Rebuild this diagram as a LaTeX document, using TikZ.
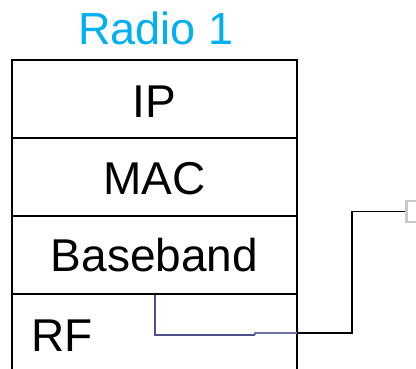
\documentclass[tikz,border=0pt]{standalone}
\usepackage{fontspec}
\setmainfont{Liberation Sans}
\definecolor{titlecyan}{HTML}{00B0F0}
\definecolor{wireA}{HTML}{505090}
\definecolor{wireB}{HTML}{7070AA}
\definecolor{portgrey}{HTML}{C8C8C8}
\tikzset{
  big/.style={font=\fontsize{46}{52}\selectfont, inner sep=0pt, anchor=base},
  boxline/.style={line width=2.2pt, black},
  wirestyle/.style={line width=1.7pt},
}
\begin{document}
\begin{tikzpicture}[x=1pt,y=-1pt]
\useasboundingbox (0,0) rectangle (416,369);
\clip (0,0) rectangle (416,369);
% title
\node[big, text=titlecyan, font=\fontsize{45}{50}\selectfont] (title) at (156,45) {Radio 1};
% stack outline
\coordinate (tl) at (12,60);
\coordinate (tr) at (297,60);
\coordinate (bl) at (12,369);
\coordinate (br) at (297,369);
\draw[boxline] (bl) -- (tl) -- (tr) -- (br);
\draw[boxline] (12,138) -- (297,138);
\draw[boxline] (12,216) -- (297,216);
\draw[boxline] (12,294) -- (297,294);
% labels
\node[big] (ip) at (154.5,118) {IP};
\node[big] (mac) at (154.5,195) {MAC};
\node[big] (bb) at (154.5,272) {Baseband};
\node[big, anchor=base west] (rf) at (31,352) {RF};
% connector
\coordinate (tap) at (155,295);
\coordinate (edge) at (297,333);
\node[draw=portgrey, line width=2.5pt, fill=white, minimum width=21pt, minimum height=21pt, inner sep=0pt, anchor=west] (port) at (405,211.5) {};
\draw[wirestyle, wireA] (tap) -- (155,335) -- (255,335);
\draw[wirestyle, wireB] (255,335) -- (255,333) -- (edge);
\draw[wirestyle, black] (edge) -- (352,333) |- (port.west);
\end{tikzpicture}
\end{document}
